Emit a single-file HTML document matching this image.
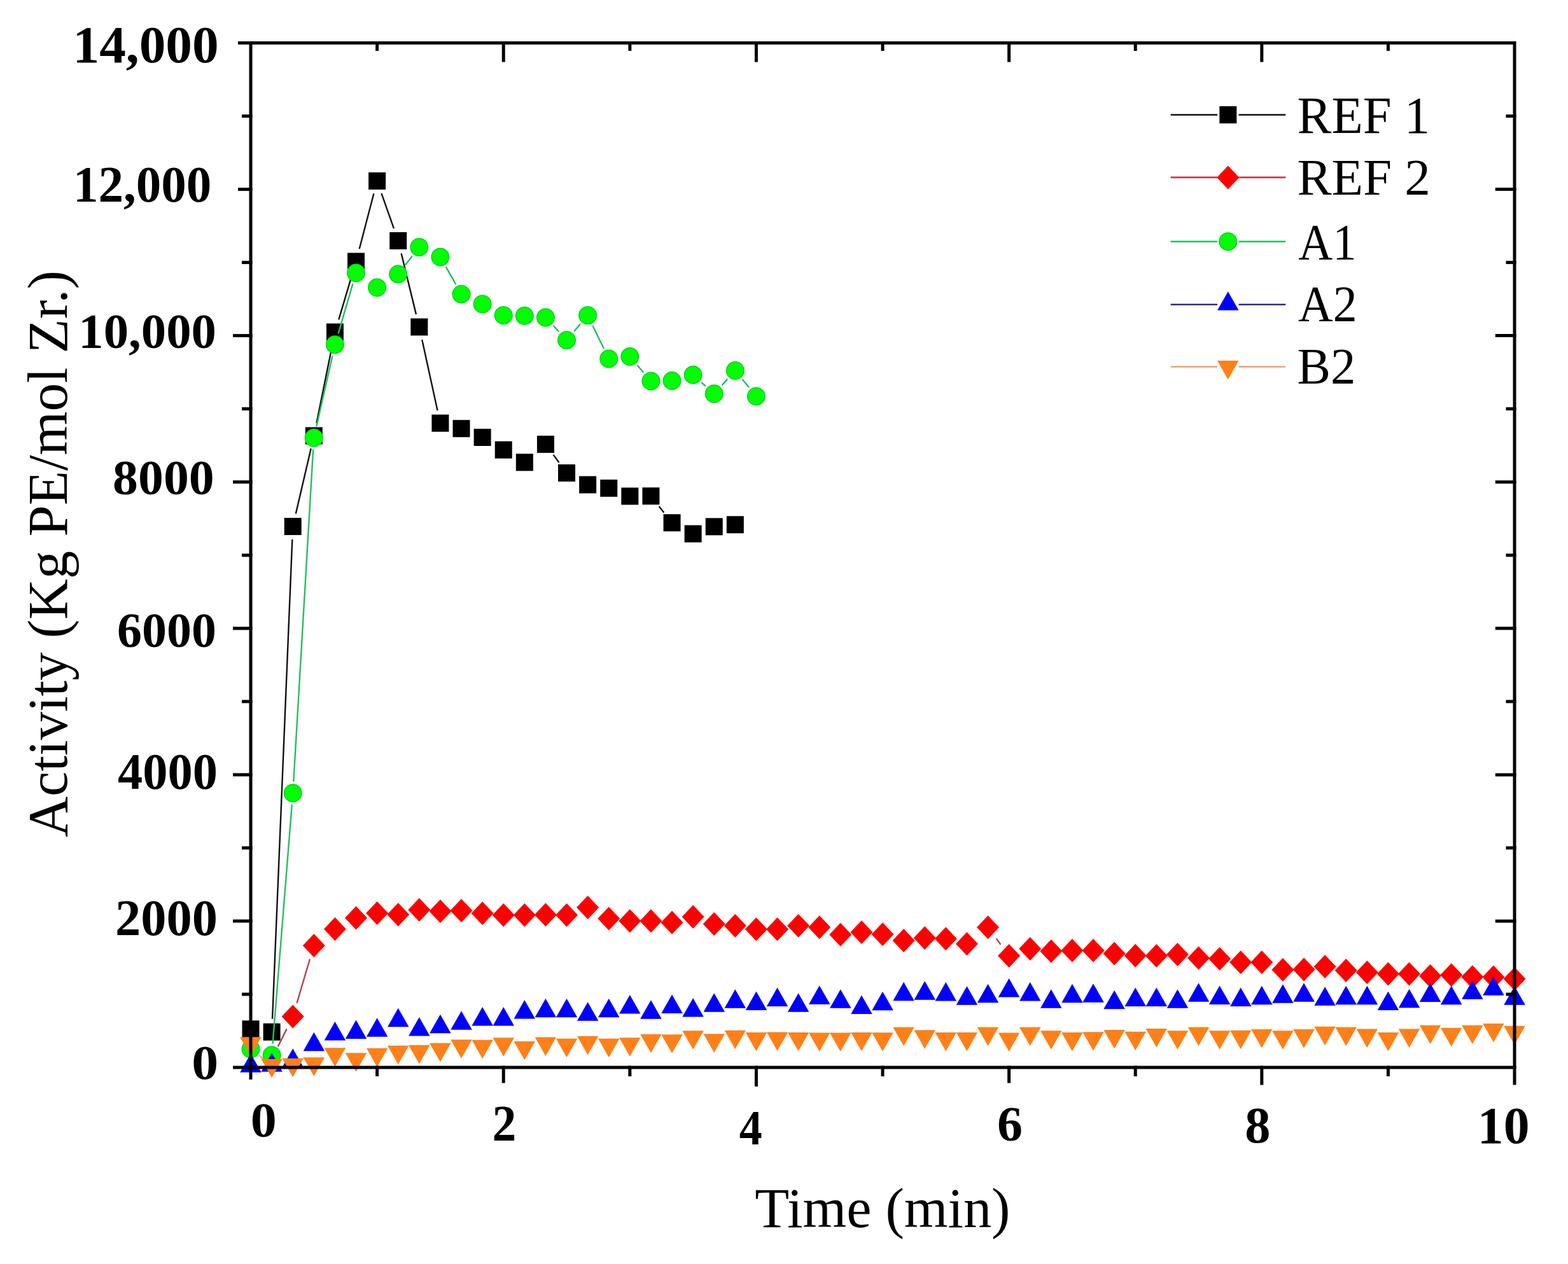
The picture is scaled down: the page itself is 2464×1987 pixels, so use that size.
<!DOCTYPE html><html><head><meta charset="utf-8"><title>Activity vs Time</title><style>html,body{margin:0;padding:0;background:#fff;}svg{display:block;}</style></head><body><svg width="2464" height="1987" viewBox="0 0 2464 1987">
<rect width="2464" height="1987" fill="#fff"/>
<path d="M428.0 1601.7L459.3 848.1M464.8 807.6L488.7 705.0M497.4 664.9L522.3 542.1M532.3 502.4L553.6 430.6M564.7 391.2L587.4 304.3M599.4 303.8L618.9 359.2M630.6 398.4L653.9 494.1M663.2 534.0L687.5 645.2M869.5 714.9L878.4 727.0M1035.6 795.9L1043.3 805.7" fill="none" stroke="#111" stroke-width="2.4"/>
<g><rect x="380.5" y="1604.2" width="27" height="27" fill="#000"/><rect x="413.6" y="1608.7" width="27" height="27" fill="#000"/><rect x="446.7" y="814.1" width="27" height="27" fill="#000"/><rect x="479.8" y="671.5" width="27" height="27" fill="#000"/><rect x="512.9" y="508.5" width="27" height="27" fill="#000"/><rect x="546.0" y="397.5" width="27" height="27" fill="#000"/><rect x="579.1" y="271.0" width="27" height="27" fill="#000"/><rect x="612.2" y="365.0" width="27" height="27" fill="#000"/><rect x="645.3" y="500.5" width="27" height="27" fill="#000"/><rect x="678.4" y="651.7" width="27" height="27" fill="#000"/><rect x="711.5" y="660.2" width="27" height="27" fill="#000"/><rect x="744.6" y="674.0" width="27" height="27" fill="#000"/><rect x="777.7" y="693.7" width="27" height="27" fill="#000"/><rect x="810.8" y="713.3" width="27" height="27" fill="#000"/><rect x="843.9" y="684.9" width="27" height="27" fill="#000"/><rect x="877.0" y="730.0" width="27" height="27" fill="#000"/><rect x="910.1" y="748.5" width="27" height="27" fill="#000"/><rect x="943.2" y="753.9" width="27" height="27" fill="#000"/><rect x="976.3" y="766.5" width="27" height="27" fill="#000"/><rect x="1009.4" y="766.3" width="27" height="27" fill="#000"/><rect x="1042.5" y="808.3" width="27" height="27" fill="#000"/><rect x="1075.6" y="825.6" width="27" height="27" fill="#000"/><rect x="1108.7" y="814.4" width="27" height="27" fill="#000"/><rect x="1141.8" y="811.3" width="27" height="27" fill="#000"/></g>
<path d="M436.8 1645.3L450.5 1617.6M466.5 1576.8L487.0 1507.5M1565.6 1475.4L1572.5 1484.9" fill="none" stroke="#b8404c" stroke-width="2.4"/>
<g><path d="M460.2 1579.4L477.7 1597.9L460.2 1616.4L442.7 1597.9Z" fill="#ff0000"/><path d="M493.3 1467.9L510.8 1486.4L493.3 1504.9L475.8 1486.4Z" fill="#ff0000"/><path d="M526.4 1442.0L543.9 1460.5L526.4 1479.0L508.9 1460.5Z" fill="#ff0000"/><path d="M559.5 1424.4L577.0 1442.9L559.5 1461.4L542.0 1442.9Z" fill="#ff0000"/><path d="M592.6 1416.9L610.1 1435.4L592.6 1453.9L575.1 1435.4Z" fill="#ff0000"/><path d="M625.7 1419.2L643.2 1437.7L625.7 1456.2L608.2 1437.7Z" fill="#ff0000"/><path d="M658.8 1411.7L676.3 1430.2L658.8 1448.7L641.3 1430.2Z" fill="#ff0000"/><path d="M691.9 1414.1L709.4 1432.6L691.9 1451.1L674.4 1432.6Z" fill="#ff0000"/><path d="M725.0 1413.1L742.5 1431.6L725.0 1450.1L707.5 1431.6Z" fill="#ff0000"/><path d="M758.1 1417.2L775.6 1435.7L758.1 1454.2L740.6 1435.7Z" fill="#ff0000"/><path d="M791.2 1420.0L808.7 1438.5L791.2 1457.0L773.7 1438.5Z" fill="#ff0000"/><path d="M824.3 1420.0L841.8 1438.5L824.3 1457.0L806.8 1438.5Z" fill="#ff0000"/><path d="M857.4 1419.5L874.9 1438.0L857.4 1456.5L839.9 1438.0Z" fill="#ff0000"/><path d="M890.5 1420.0L908.0 1438.5L890.5 1457.0L873.0 1438.5Z" fill="#ff0000"/><path d="M923.6 1407.9L941.1 1426.4L923.6 1444.9L906.1 1426.4Z" fill="#ff0000"/><path d="M956.7 1425.6L974.2 1444.1L956.7 1462.6L939.2 1444.1Z" fill="#ff0000"/><path d="M989.8 1429.3L1007.3 1447.8L989.8 1466.3L972.3 1447.8Z" fill="#ff0000"/><path d="M1022.9 1429.3L1040.4 1447.8L1022.9 1466.3L1005.4 1447.8Z" fill="#ff0000"/><path d="M1056.0 1431.7L1073.5 1450.2L1056.0 1468.7L1038.5 1450.2Z" fill="#ff0000"/><path d="M1089.1 1422.8L1106.6 1441.3L1089.1 1459.8L1071.6 1441.3Z" fill="#ff0000"/><path d="M1122.2 1434.0L1139.7 1452.5L1122.2 1471.0L1104.7 1452.5Z" fill="#ff0000"/><path d="M1155.3 1436.7L1172.8 1455.2L1155.3 1473.7L1137.8 1455.2Z" fill="#ff0000"/><path d="M1188.4 1442.3L1205.9 1460.8L1188.4 1479.3L1170.9 1460.8Z" fill="#ff0000"/><path d="M1221.5 1442.3L1239.0 1460.8L1221.5 1479.3L1204.0 1460.8Z" fill="#ff0000"/><path d="M1254.6 1436.7L1272.1 1455.2L1254.6 1473.7L1237.1 1455.2Z" fill="#ff0000"/><path d="M1287.7 1439.2L1305.2 1457.7L1287.7 1476.2L1270.2 1457.7Z" fill="#ff0000"/><path d="M1320.8 1450.7L1338.3 1469.2L1320.8 1487.7L1303.3 1469.2Z" fill="#ff0000"/><path d="M1353.9 1447.0L1371.4 1465.5L1353.9 1484.0L1336.4 1465.5Z" fill="#ff0000"/><path d="M1387.0 1450.3L1404.5 1468.8L1387.0 1487.3L1369.5 1468.8Z" fill="#ff0000"/><path d="M1420.1 1460.0L1437.6 1478.5L1420.1 1497.0L1402.6 1478.5Z" fill="#ff0000"/><path d="M1453.2 1455.9L1470.7 1474.4L1453.2 1492.9L1435.7 1474.4Z" fill="#ff0000"/><path d="M1486.3 1457.2L1503.8 1475.7L1486.3 1494.2L1468.8 1475.7Z" fill="#ff0000"/><path d="M1519.4 1465.2L1536.9 1483.7L1519.4 1502.2L1501.9 1483.7Z" fill="#ff0000"/><path d="M1552.5 1439.2L1570.0 1457.7L1552.5 1476.2L1535.0 1457.7Z" fill="#ff0000"/><path d="M1585.6 1484.1L1603.1 1502.6L1585.6 1521.1L1568.1 1502.6Z" fill="#ff0000"/><path d="M1618.7 1473.0L1636.2 1491.5L1618.7 1510.0L1601.2 1491.5Z" fill="#ff0000"/><path d="M1651.8 1476.7L1669.3 1495.2L1651.8 1513.7L1634.3 1495.2Z" fill="#ff0000"/><path d="M1684.9 1475.8L1702.4 1494.3L1684.9 1512.8L1667.4 1494.3Z" fill="#ff0000"/><path d="M1718.0 1475.8L1735.5 1494.3L1718.0 1512.8L1700.5 1494.3Z" fill="#ff0000"/><path d="M1751.1 1480.4L1768.6 1498.9L1751.1 1517.4L1733.6 1498.9Z" fill="#ff0000"/><path d="M1784.2 1483.7L1801.7 1502.2L1784.2 1520.7L1766.7 1502.2Z" fill="#ff0000"/><path d="M1817.3 1484.1L1834.8 1502.6L1817.3 1521.1L1799.8 1502.6Z" fill="#ff0000"/><path d="M1850.4 1481.9L1867.9 1500.4L1850.4 1518.9L1832.9 1500.4Z" fill="#ff0000"/><path d="M1883.5 1487.5L1901.0 1506.0L1883.5 1524.5L1866.0 1506.0Z" fill="#ff0000"/><path d="M1916.6 1488.8L1934.1 1507.3L1916.6 1525.8L1899.1 1507.3Z" fill="#ff0000"/><path d="M1949.7 1494.3L1967.2 1512.8L1949.7 1531.3L1932.2 1512.8Z" fill="#ff0000"/><path d="M1982.8 1494.3L2000.3 1512.8L1982.8 1531.3L1965.3 1512.8Z" fill="#ff0000"/><path d="M2015.9 1506.0L2033.4 1524.5L2015.9 1543.0L1998.4 1524.5Z" fill="#ff0000"/><path d="M2049.0 1505.5L2066.5 1524.0L2049.0 1542.5L2031.5 1524.0Z" fill="#ff0000"/><path d="M2082.1 1501.0L2099.6 1519.5L2082.1 1538.0L2064.6 1519.5Z" fill="#ff0000"/><path d="M2115.2 1507.0L2132.7 1525.5L2115.2 1544.0L2097.7 1525.5Z" fill="#ff0000"/><path d="M2148.3 1510.1L2165.8 1528.6L2148.3 1547.1L2130.8 1528.6Z" fill="#ff0000"/><path d="M2181.4 1512.4L2198.9 1530.9L2181.4 1549.4L2163.9 1530.9Z" fill="#ff0000"/><path d="M2214.5 1512.4L2232.0 1530.9L2214.5 1549.4L2197.0 1530.9Z" fill="#ff0000"/><path d="M2247.6 1515.7L2265.1 1534.2L2247.6 1552.7L2230.1 1534.2Z" fill="#ff0000"/><path d="M2280.7 1514.2L2298.2 1532.7L2280.7 1551.2L2263.2 1532.7Z" fill="#ff0000"/><path d="M2313.8 1517.2L2331.3 1535.7L2313.8 1554.2L2296.3 1535.7Z" fill="#ff0000"/><path d="M2346.9 1517.6L2364.4 1536.1L2346.9 1554.6L2329.4 1536.1Z" fill="#ff0000"/><path d="M2380.0 1520.3L2397.5 1538.8L2380.0 1557.3L2362.5 1538.8Z" fill="#ff0000"/></g>
<path d="M428.5 1640.9L458.8 1264.7M461.3 1228.8L492.2 706.2M497.3 670.6L522.4 559.4M531.5 524.5L554.4 446.2M636.8 416.8L647.7 402.8M700.8 419.7L716.1 446.7M869.6 512.1L878.3 521.5M902.1 521.0L912.0 509.4M931.4 511.9L948.9 547.9M1001.5 574.2L1011.2 585.5M1102.5 601.3L1108.8 607.0M1134.3 605.7L1143.2 595.9M1166.7 596.5L1177.0 609.0" fill="none" stroke="#20c060" stroke-width="2.4"/>
<g><circle cx="394.0" cy="1649.0" r="13.8" fill="#00ff00" stroke="#00d020" stroke-width="1.4"/><circle cx="427.1" cy="1658.8" r="13.8" fill="#00ff00" stroke="#00d020" stroke-width="1.4"/><circle cx="460.2" cy="1246.8" r="13.8" fill="#00ff00" stroke="#00d020" stroke-width="1.4"/><circle cx="493.3" cy="688.2" r="13.8" fill="#00ff00" stroke="#00d020" stroke-width="1.4"/><circle cx="526.4" cy="541.8" r="13.8" fill="#00ff00" stroke="#00d020" stroke-width="1.4"/><circle cx="559.5" cy="428.9" r="13.8" fill="#00ff00" stroke="#00d020" stroke-width="1.4"/><circle cx="592.6" cy="452.0" r="13.8" fill="#00ff00" stroke="#00d020" stroke-width="1.4"/><circle cx="625.7" cy="431.0" r="13.8" fill="#00ff00" stroke="#00d020" stroke-width="1.4"/><circle cx="658.8" cy="388.6" r="13.8" fill="#00ff00" stroke="#00d020" stroke-width="1.4"/><circle cx="691.9" cy="404.0" r="13.8" fill="#00ff00" stroke="#00d020" stroke-width="1.4"/><circle cx="725.0" cy="462.4" r="13.8" fill="#00ff00" stroke="#00d020" stroke-width="1.4"/><circle cx="758.1" cy="478.0" r="13.8" fill="#00ff00" stroke="#00d020" stroke-width="1.4"/><circle cx="791.2" cy="495.7" r="13.8" fill="#00ff00" stroke="#00d020" stroke-width="1.4"/><circle cx="824.3" cy="496.5" r="13.8" fill="#00ff00" stroke="#00d020" stroke-width="1.4"/><circle cx="857.4" cy="498.9" r="13.8" fill="#00ff00" stroke="#00d020" stroke-width="1.4"/><circle cx="890.5" cy="534.7" r="13.8" fill="#00ff00" stroke="#00d020" stroke-width="1.4"/><circle cx="923.6" cy="495.7" r="13.8" fill="#00ff00" stroke="#00d020" stroke-width="1.4"/><circle cx="956.7" cy="564.1" r="13.8" fill="#00ff00" stroke="#00d020" stroke-width="1.4"/><circle cx="989.8" cy="560.6" r="13.8" fill="#00ff00" stroke="#00d020" stroke-width="1.4"/><circle cx="1022.9" cy="599.1" r="13.8" fill="#00ff00" stroke="#00d020" stroke-width="1.4"/><circle cx="1056.0" cy="598.5" r="13.8" fill="#00ff00" stroke="#00d020" stroke-width="1.4"/><circle cx="1089.1" cy="589.3" r="13.8" fill="#00ff00" stroke="#00d020" stroke-width="1.4"/><circle cx="1122.2" cy="619.0" r="13.8" fill="#00ff00" stroke="#00d020" stroke-width="1.4"/><circle cx="1155.3" cy="582.6" r="13.8" fill="#00ff00" stroke="#00d020" stroke-width="1.4"/><circle cx="1188.4" cy="622.9" r="13.8" fill="#00ff00" stroke="#00d020" stroke-width="1.4"/></g>
<path d="" fill="none" stroke="#2828a0" stroke-width="2.4"/>
<g><path d="M394.0 1656.2L410.8 1685.8L377.2 1685.8Z" fill="#0000ff"/><path d="M427.1 1655.2L443.9 1684.8L410.4 1684.8Z" fill="#0000ff"/><path d="M460.2 1648.2L476.9 1677.8L443.4 1677.8Z" fill="#0000ff"/><path d="M493.3 1622.8L510.1 1652.3L476.6 1652.3Z" fill="#0000ff"/><path d="M526.4 1606.0L543.1 1635.5L509.6 1635.5Z" fill="#0000ff"/><path d="M559.5 1603.5L576.2 1633.0L542.8 1633.0Z" fill="#0000ff"/><path d="M592.6 1600.3L609.4 1629.8L575.9 1629.8Z" fill="#0000ff"/><path d="M625.7 1584.8L642.5 1614.3L609.0 1614.3Z" fill="#0000ff"/><path d="M658.8 1599.0L675.5 1628.5L642.0 1628.5Z" fill="#0000ff"/><path d="M691.9 1594.8L708.6 1624.2L675.1 1624.2Z" fill="#0000ff"/><path d="M725.0 1589.2L741.8 1618.7L708.2 1618.7Z" fill="#0000ff"/><path d="M758.1 1583.0L774.9 1612.5L741.4 1612.5Z" fill="#0000ff"/><path d="M791.2 1583.0L808.0 1612.5L774.5 1612.5Z" fill="#0000ff"/><path d="M824.3 1572.0L841.0 1601.5L807.5 1601.5Z" fill="#0000ff"/><path d="M857.4 1569.7L874.1 1599.2L840.6 1599.2Z" fill="#0000ff"/><path d="M890.5 1569.7L907.2 1599.2L873.8 1599.2Z" fill="#0000ff"/><path d="M923.6 1575.2L940.4 1604.8L906.9 1604.8Z" fill="#0000ff"/><path d="M956.7 1569.7L973.5 1599.2L940.0 1599.2Z" fill="#0000ff"/><path d="M989.8 1564.0L1006.5 1593.5L973.0 1593.5Z" fill="#0000ff"/><path d="M1022.9 1572.2L1039.7 1601.8L1006.1 1601.8Z" fill="#0000ff"/><path d="M1056.0 1563.5L1072.8 1593.0L1039.2 1593.0Z" fill="#0000ff"/><path d="M1089.1 1569.0L1105.8 1598.5L1072.3 1598.5Z" fill="#0000ff"/><path d="M1122.2 1561.2L1139.0 1590.8L1105.5 1590.8Z" fill="#0000ff"/><path d="M1155.3 1555.2L1172.0 1584.8L1138.5 1584.8Z" fill="#0000ff"/><path d="M1188.4 1558.5L1205.2 1588.0L1171.7 1588.0Z" fill="#0000ff"/><path d="M1221.5 1552.5L1238.2 1582.0L1204.8 1582.0Z" fill="#0000ff"/><path d="M1254.6 1561.2L1271.3 1590.8L1237.8 1590.8Z" fill="#0000ff"/><path d="M1287.7 1549.3L1304.5 1578.8L1271.0 1578.8Z" fill="#0000ff"/><path d="M1320.8 1555.2L1337.5 1584.8L1304.0 1584.8Z" fill="#0000ff"/><path d="M1353.9 1564.5L1370.7 1594.0L1337.2 1594.0Z" fill="#0000ff"/><path d="M1387.0 1558.8L1403.8 1588.2L1370.2 1588.2Z" fill="#0000ff"/><path d="M1420.1 1543.7L1436.8 1573.2L1403.3 1573.2Z" fill="#0000ff"/><path d="M1453.2 1542.2L1470.0 1571.8L1436.5 1571.8Z" fill="#0000ff"/><path d="M1486.3 1544.0L1503.0 1573.5L1469.5 1573.5Z" fill="#0000ff"/><path d="M1519.4 1550.2L1536.2 1579.7L1502.7 1579.7Z" fill="#0000ff"/><path d="M1552.5 1546.8L1569.2 1576.3L1535.8 1576.3Z" fill="#0000ff"/><path d="M1585.6 1538.0L1602.3 1567.5L1568.8 1567.5Z" fill="#0000ff"/><path d="M1618.7 1544.0L1635.5 1573.5L1602.0 1573.5Z" fill="#0000ff"/><path d="M1651.8 1555.2L1668.5 1584.8L1635.0 1584.8Z" fill="#0000ff"/><path d="M1684.9 1546.8L1701.7 1576.3L1668.2 1576.3Z" fill="#0000ff"/><path d="M1718.0 1546.3L1734.8 1575.8L1701.2 1575.8Z" fill="#0000ff"/><path d="M1751.1 1556.7L1767.8 1586.2L1734.3 1586.2Z" fill="#0000ff"/><path d="M1784.2 1552.5L1801.0 1582.0L1767.5 1582.0Z" fill="#0000ff"/><path d="M1817.3 1552.5L1834.0 1582.0L1800.5 1582.0Z" fill="#0000ff"/><path d="M1850.4 1555.2L1867.2 1584.8L1833.7 1584.8Z" fill="#0000ff"/><path d="M1883.5 1545.2L1900.2 1574.8L1866.8 1574.8Z" fill="#0000ff"/><path d="M1916.6 1549.5L1933.3 1579.0L1899.8 1579.0Z" fill="#0000ff"/><path d="M1949.7 1552.5L1966.5 1582.0L1933.0 1582.0Z" fill="#0000ff"/><path d="M1982.8 1549.7L1999.5 1579.2L1966.0 1579.2Z" fill="#0000ff"/><path d="M2015.9 1547.2L2032.6 1576.8L1999.1 1576.8Z" fill="#0000ff"/><path d="M2049.0 1545.2L2065.8 1574.8L2032.2 1574.8Z" fill="#0000ff"/><path d="M2082.1 1551.2L2098.8 1580.8L2065.3 1580.8Z" fill="#0000ff"/><path d="M2115.2 1549.7L2131.9 1579.2L2098.4 1579.2Z" fill="#0000ff"/><path d="M2148.3 1549.7L2165.1 1579.2L2131.6 1579.2Z" fill="#0000ff"/><path d="M2181.4 1558.5L2198.2 1588.0L2164.7 1588.0Z" fill="#0000ff"/><path d="M2214.5 1554.8L2231.2 1584.2L2197.8 1584.2Z" fill="#0000ff"/><path d="M2247.6 1545.5L2264.3 1575.0L2230.8 1575.0Z" fill="#0000ff"/><path d="M2280.7 1549.7L2297.4 1579.2L2263.9 1579.2Z" fill="#0000ff"/><path d="M2313.8 1541.2L2330.6 1570.8L2297.1 1570.8Z" fill="#0000ff"/><path d="M2346.9 1535.2L2363.7 1564.8L2330.2 1564.8Z" fill="#0000ff"/><path d="M2380.0 1550.2L2396.8 1579.7L2363.2 1579.7Z" fill="#0000ff"/></g>
<path d="M407.2 1658.7L413.9 1665.8" fill="none" stroke="#f0a070" stroke-width="2.4"/>
<g><path d="M377.2 1630.2L410.8 1630.2L394.0 1659.8Z" fill="#ff8018"/><path d="M410.4 1664.8L443.9 1664.8L427.1 1694.2Z" fill="#ff8018"/><path d="M443.4 1663.8L476.9 1663.8L460.2 1693.2Z" fill="#ff8018"/><path d="M476.6 1662.2L510.1 1662.2L493.3 1691.8Z" fill="#ff8018"/><path d="M509.6 1647.2L543.1 1647.2L526.4 1676.8Z" fill="#ff8018"/><path d="M542.8 1655.2L576.2 1655.2L559.5 1684.8Z" fill="#ff8018"/><path d="M575.9 1647.8L609.4 1647.8L592.6 1677.3Z" fill="#ff8018"/><path d="M609.0 1643.8L642.5 1643.8L625.7 1673.3Z" fill="#ff8018"/><path d="M642.0 1643.0L675.5 1643.0L658.8 1672.5Z" fill="#ff8018"/><path d="M675.1 1639.8L708.6 1639.8L691.9 1669.2Z" fill="#ff8018"/><path d="M708.2 1634.2L741.8 1634.2L725.0 1663.7Z" fill="#ff8018"/><path d="M741.4 1634.7L774.9 1634.7L758.1 1664.2Z" fill="#ff8018"/><path d="M774.5 1631.3L808.0 1631.3L791.2 1660.8Z" fill="#ff8018"/><path d="M807.5 1637.0L841.0 1637.0L824.3 1666.5Z" fill="#ff8018"/><path d="M840.6 1630.5L874.1 1630.5L857.4 1660.0Z" fill="#ff8018"/><path d="M873.8 1632.8L907.2 1632.8L890.5 1662.2Z" fill="#ff8018"/><path d="M906.9 1628.7L940.4 1628.7L923.6 1658.2Z" fill="#ff8018"/><path d="M940.0 1632.8L973.5 1632.8L956.7 1662.2Z" fill="#ff8018"/><path d="M973.0 1631.3L1006.5 1631.3L989.8 1660.8Z" fill="#ff8018"/><path d="M1006.1 1625.8L1039.7 1625.8L1022.9 1655.2Z" fill="#ff8018"/><path d="M1039.2 1626.2L1072.8 1626.2L1056.0 1655.8Z" fill="#ff8018"/><path d="M1072.3 1620.2L1105.8 1620.2L1089.1 1649.8Z" fill="#ff8018"/><path d="M1105.5 1625.3L1139.0 1625.3L1122.2 1654.8Z" fill="#ff8018"/><path d="M1138.5 1619.8L1172.0 1619.8L1155.3 1649.2Z" fill="#ff8018"/><path d="M1171.7 1623.0L1205.2 1623.0L1188.4 1652.5Z" fill="#ff8018"/><path d="M1204.8 1622.5L1238.2 1622.5L1221.5 1652.0Z" fill="#ff8018"/><path d="M1237.8 1623.0L1271.3 1623.0L1254.6 1652.5Z" fill="#ff8018"/><path d="M1271.0 1623.5L1304.5 1623.5L1287.7 1653.0Z" fill="#ff8018"/><path d="M1304.0 1623.5L1337.5 1623.5L1320.8 1653.0Z" fill="#ff8018"/><path d="M1337.2 1623.0L1370.7 1623.0L1353.9 1652.5Z" fill="#ff8018"/><path d="M1370.2 1623.2L1403.8 1623.2L1387.0 1652.8Z" fill="#ff8018"/><path d="M1403.3 1614.7L1436.8 1614.7L1420.1 1644.2Z" fill="#ff8018"/><path d="M1436.5 1619.2L1470.0 1619.2L1453.2 1648.8Z" fill="#ff8018"/><path d="M1469.5 1623.0L1503.0 1623.0L1486.3 1652.5Z" fill="#ff8018"/><path d="M1502.7 1623.0L1536.2 1623.0L1519.4 1652.5Z" fill="#ff8018"/><path d="M1535.8 1614.7L1569.2 1614.7L1552.5 1644.2Z" fill="#ff8018"/><path d="M1568.8 1623.5L1602.3 1623.5L1585.6 1653.0Z" fill="#ff8018"/><path d="M1602.0 1614.7L1635.5 1614.7L1618.7 1644.2Z" fill="#ff8018"/><path d="M1635.0 1620.2L1668.5 1620.2L1651.8 1649.8Z" fill="#ff8018"/><path d="M1668.2 1623.0L1701.7 1623.0L1684.9 1652.5Z" fill="#ff8018"/><path d="M1701.2 1622.2L1734.8 1622.2L1718.0 1651.7Z" fill="#ff8018"/><path d="M1734.3 1619.0L1767.8 1619.0L1751.1 1648.5Z" fill="#ff8018"/><path d="M1767.5 1621.7L1801.0 1621.7L1784.2 1651.2Z" fill="#ff8018"/><path d="M1800.5 1617.0L1834.0 1617.0L1817.3 1646.5Z" fill="#ff8018"/><path d="M1833.7 1620.2L1867.2 1620.2L1850.4 1649.8Z" fill="#ff8018"/><path d="M1866.8 1614.7L1900.2 1614.7L1883.5 1644.2Z" fill="#ff8018"/><path d="M1899.8 1620.2L1933.3 1620.2L1916.6 1649.8Z" fill="#ff8018"/><path d="M1933.0 1619.8L1966.5 1619.8L1949.7 1649.3Z" fill="#ff8018"/><path d="M1966.0 1618.0L1999.5 1618.0L1982.8 1647.5Z" fill="#ff8018"/><path d="M1999.1 1620.2L2032.6 1620.2L2015.9 1649.8Z" fill="#ff8018"/><path d="M2032.2 1618.0L2065.8 1618.0L2049.0 1647.5Z" fill="#ff8018"/><path d="M2065.3 1613.8L2098.8 1613.8L2082.1 1643.2Z" fill="#ff8018"/><path d="M2098.4 1614.7L2131.9 1614.7L2115.2 1644.2Z" fill="#ff8018"/><path d="M2131.6 1617.5L2165.1 1617.5L2148.3 1647.0Z" fill="#ff8018"/><path d="M2164.7 1623.0L2198.2 1623.0L2181.4 1652.5Z" fill="#ff8018"/><path d="M2197.8 1617.5L2231.2 1617.5L2214.5 1647.0Z" fill="#ff8018"/><path d="M2230.8 1611.8L2264.3 1611.8L2247.6 1641.3Z" fill="#ff8018"/><path d="M2263.9 1615.7L2297.4 1615.7L2280.7 1645.2Z" fill="#ff8018"/><path d="M2297.1 1611.8L2330.6 1611.8L2313.8 1641.3Z" fill="#ff8018"/><path d="M2330.2 1609.0L2363.7 1609.0L2346.9 1638.5Z" fill="#ff8018"/><path d="M2363.2 1612.8L2396.8 1612.8L2380.0 1642.2Z" fill="#ff8018"/></g>
<g stroke="#000" stroke-width="5" stroke-linecap="square"><rect x="394.0" y="67.5" width="1986.0" height="1610.5" fill="none" stroke="#000" stroke-width="5"/><line x1="368.5" y1="1678.0" x2="394.0" y2="1678.0"/><line x1="382.5" y1="1563.0" x2="394.0" y2="1563.0"/><line x1="2369.0" y1="1563.0" x2="2380.0" y2="1563.0"/><line x1="368.5" y1="1447.9" x2="394.0" y2="1447.9"/><line x1="2352.3" y1="1447.9" x2="2380.0" y2="1447.9"/><line x1="382.5" y1="1332.9" x2="394.0" y2="1332.9"/><line x1="2369.0" y1="1332.9" x2="2380.0" y2="1332.9"/><line x1="368.5" y1="1217.9" x2="394.0" y2="1217.9"/><line x1="2352.3" y1="1217.9" x2="2380.0" y2="1217.9"/><line x1="382.5" y1="1102.8" x2="394.0" y2="1102.8"/><line x1="2369.0" y1="1102.8" x2="2380.0" y2="1102.8"/><line x1="368.5" y1="987.8" x2="394.0" y2="987.8"/><line x1="2352.3" y1="987.8" x2="2380.0" y2="987.8"/><line x1="382.5" y1="872.8" x2="394.0" y2="872.8"/><line x1="2369.0" y1="872.8" x2="2380.0" y2="872.8"/><line x1="368.5" y1="757.7" x2="394.0" y2="757.7"/><line x1="2352.3" y1="757.7" x2="2380.0" y2="757.7"/><line x1="382.5" y1="642.7" x2="394.0" y2="642.7"/><line x1="2369.0" y1="642.7" x2="2380.0" y2="642.7"/><line x1="368.5" y1="527.6" x2="394.0" y2="527.6"/><line x1="2352.3" y1="527.6" x2="2380.0" y2="527.6"/><line x1="382.5" y1="412.6" x2="394.0" y2="412.6"/><line x1="2369.0" y1="412.6" x2="2380.0" y2="412.6"/><line x1="376.5" y1="297.6" x2="394.0" y2="297.6"/><line x1="2352.3" y1="297.6" x2="2380.0" y2="297.6"/><line x1="382.5" y1="182.5" x2="394.0" y2="182.5"/><line x1="2369.0" y1="182.5" x2="2380.0" y2="182.5"/><line x1="376.5" y1="67.5" x2="394.0" y2="67.5"/><line x1="394.0" y1="1678.0" x2="394.0" y2="1694.5"/><line x1="592.6" y1="1678.0" x2="592.6" y2="1689.5"/><line x1="592.6" y1="67.5" x2="592.6" y2="77.5"/><line x1="791.2" y1="1678.0" x2="791.2" y2="1700.0"/><line x1="791.2" y1="67.5" x2="791.2" y2="95.0"/><line x1="989.8" y1="1678.0" x2="989.8" y2="1689.5"/><line x1="989.8" y1="67.5" x2="989.8" y2="77.5"/><line x1="1188.4" y1="1678.0" x2="1188.4" y2="1705.5"/><line x1="1188.4" y1="67.5" x2="1188.4" y2="95.0"/><line x1="1387.0" y1="1678.0" x2="1387.0" y2="1689.5"/><line x1="1387.0" y1="67.5" x2="1387.0" y2="77.5"/><line x1="1585.6" y1="1678.0" x2="1585.6" y2="1700.0"/><line x1="1585.6" y1="67.5" x2="1585.6" y2="95.0"/><line x1="1784.2" y1="1678.0" x2="1784.2" y2="1689.5"/><line x1="1784.2" y1="67.5" x2="1784.2" y2="77.5"/><line x1="1982.8" y1="1678.0" x2="1982.8" y2="1703.0"/><line x1="1982.8" y1="67.5" x2="1982.8" y2="95.0"/><line x1="2181.4" y1="1678.0" x2="2181.4" y2="1689.5"/><line x1="2181.4" y1="67.5" x2="2181.4" y2="77.5"/><line x1="2380.0" y1="1678.0" x2="2380.0" y2="1703.0"/></g>
<g font-family="'Liberation Serif', 'Times New Roman', serif" fill="#000"><text x="114.5" y="98.3" font-size="82.27" font-weight="bold" textLength="229.1" lengthAdjust="spacingAndGlyphs">14,000</text><text x="114.9" y="316.7" font-size="81.06" font-weight="bold" textLength="217.5" lengthAdjust="spacingAndGlyphs">12,000</text><text x="123.3" y="546.8" font-size="78.48" font-weight="bold" textLength="216.7" lengthAdjust="spacingAndGlyphs">10,000</text><text x="177.1" y="776.6" font-size="77.89" font-weight="bold" textLength="159.6" lengthAdjust="spacingAndGlyphs">8000</text><text x="184.0" y="1017.0" font-size="78.55" font-weight="bold" textLength="155.9" lengthAdjust="spacingAndGlyphs">6000</text><text x="185.0" y="1240.3" font-size="79.79" font-weight="bold" textLength="156.9" lengthAdjust="spacingAndGlyphs">4000</text><text x="181.1" y="1470.3" font-size="79.46" font-weight="bold" textLength="160.8" lengthAdjust="spacingAndGlyphs">2000</text><text x="301.2" y="1696.3" font-size="75.64" font-weight="bold" textLength="41.9" lengthAdjust="spacingAndGlyphs">0</text><text x="393.8" y="1786.8" font-size="77.59" font-weight="bold" textLength="41.0" lengthAdjust="spacingAndGlyphs">0</text><text x="773.4" y="1793.3" font-size="80.66" font-weight="bold" textLength="37.8" lengthAdjust="spacingAndGlyphs">2</text><text x="1161.7" y="1798.9" font-size="78.42" font-weight="bold" textLength="35.9" lengthAdjust="spacingAndGlyphs">4</text><text x="1566.9" y="1792.8" font-size="79.31" font-weight="bold" textLength="39.9" lengthAdjust="spacingAndGlyphs">6</text><text x="1956.2" y="1795.7" font-size="80.00" font-weight="bold" textLength="40.2" lengthAdjust="spacingAndGlyphs">8</text><text x="2321.8" y="1797.0" font-size="82.58" font-weight="bold" textLength="81.7" lengthAdjust="spacingAndGlyphs">10</text><text x="1186.2" y="1928.5" font-size="89.31" font-weight="normal" textLength="401.3" lengthAdjust="spacingAndGlyphs">Time (min)</text><text x="2038.6" y="209.3" font-size="82.90" font-weight="normal" textLength="208.4" lengthAdjust="spacingAndGlyphs">REF 1</text><text x="2038.5" y="306.3" font-size="80.76" font-weight="normal" textLength="209.4" lengthAdjust="spacingAndGlyphs">REF 2</text><text x="2040.2" y="407.6" font-size="80.15" font-weight="normal" textLength="91.3" lengthAdjust="spacingAndGlyphs">A1</text><text x="2040.1" y="504.6" font-size="80.15" font-weight="normal" textLength="92.5" lengthAdjust="spacingAndGlyphs">A2</text><text x="2038.6" y="603.0" font-size="80.92" font-weight="normal" textLength="91.7" lengthAdjust="spacingAndGlyphs">B2</text></g>
<g font-family="'Liberation Serif', 'Times New Roman', serif" fill="#000" transform="translate(105.2,1315) rotate(-90)"><text x="-0.9" y="0.0" font-size="88.64" font-weight="normal" textLength="890.8" lengthAdjust="spacingAndGlyphs">Activity (Kg PE/mol Zr.)</text></g>
<g><path d="M1839.7 180.5H1913M1946.5 180.5H2020.3" stroke="#111" stroke-width="2.6"/><path d="M1839.7 278.9H1913M1946.5 278.9H2020.3" stroke="#b8404c" stroke-width="2.6"/><path d="M1839.7 379.7H1913M1946.5 379.7H2020.3" stroke="#20c060" stroke-width="2.6"/><path d="M1839.7 478.7H1913M1946.5 478.7H2020.3" stroke="#2828a0" stroke-width="2.6"/><path d="M1839.7 576.5H1913M1946.5 576.5H2020.3" stroke="#f0a070" stroke-width="2.6"/><rect x="1916.3" y="167.0" width="27" height="27" fill="#000"/><path d="M1929.8 260.4L1947.3 278.9L1929.8 297.4L1912.3 278.9Z" fill="#ff0000"/><circle cx="1929.8" cy="379.7" r="13.8" fill="#00ff00" stroke="#00d020" stroke-width="1.4"/><path d="M1929.8 458.2L1946.5 487.8L1913.0 487.8Z" fill="#0000ff"/><path d="M1913.0 567.0L1946.5 567.0L1929.8 596.5Z" fill="#ff8018"/></g>
</svg></body></html>
